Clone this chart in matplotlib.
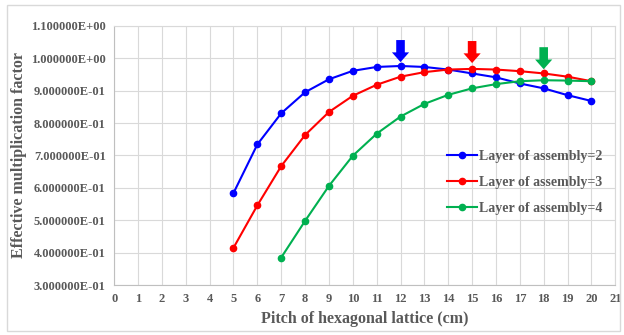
import numpy as np
import matplotlib
matplotlib.use("Agg")
import matplotlib.pyplot as plt
from matplotlib.patches import FancyArrow, Rectangle
from matplotlib.ticker import FuncFormatter

plt.rcParams['font.family'] = ['Liberation Serif', 'DejaVu Serif']
plt.rcParams['font.weight'] = 'bold'
plt.rcParams['axes.labelweight'] = 'bold'

# pitch (cm) and k-eff
pitch_2 = [5, 6, 7, 8, 9, 10, 11, 12, 13, 14, 15, 16, 17, 18, 19, 20]
keff_2 = [0.584, 0.734, 0.830, 0.895, 0.935, 0.961, 0.973, 0.976, 0.973,
          0.965, 0.953, 0.941, 0.922, 0.907, 0.886, 0.868]

pitch_3 = [5, 6, 7, 8, 9, 10, 11, 12, 13, 14, 15, 16, 17, 18, 19, 20]
keff_3 = [0.415, 0.546, 0.667, 0.763, 0.834, 0.884, 0.918, 0.943, 0.957,
          0.965, 0.967, 0.965, 0.960, 0.953, 0.943, 0.929]

pitch_4 = [7, 8, 9, 10, 11, 12, 13, 14, 15, 16, 17, 18, 19, 20]
keff_4 = [0.385, 0.498, 0.606, 0.699, 0.767, 0.820, 0.859, 0.887, 0.907,
          0.920, 0.929, 0.932, 0.931, 0.929]

labels = ["Layer of assembly=2", "Layer of assembly=3", "Layer of assembly=4"]
colors = ["#0000ff", "#ff0000", "#00b050"]

fig = plt.figure(figsize=(6.24, 3.35), dpi=100)
ax = fig.add_axes([0.183, 0.149, 0.803, 0.774])

# light frame around the whole chart
fig.patches.append(Rectangle((0.011, 0.012), 0.982, 0.973, transform=fig.transFigure,
                             fill=False, edgecolor="#d9d9d9", linewidth=1))

series = [(pitch_2, keff_2), (pitch_3, keff_3), (pitch_4, keff_4)]
for (x, y), lab, c in zip(series, labels, colors):
    ax.plot(x, y, color=c, marker="o", markersize=4.5, linewidth=1.5, label=lab)

# down arrows marking the maximum of each curve
offsets = [0.012, 0.018, 0.034]
for (x, y), c, off in zip(series, colors, offsets):
    i = int(np.argmax(y))
    tip = y[i] + off
    length = 0.068
    ax.add_patch(FancyArrow(x[i], tip + length, 0, -length, width=0.36,
                            head_width=0.72, head_length=0.03,
                            length_includes_head=True, color=c, linewidth=0))

ax.set_xlim(0, 21)
ax.set_ylim(0.3, 1.1)
ax.set_xticks(range(0, 22))
ax.set_yticks(np.arange(0.3, 1.1001, 0.1))
ax.yaxis.set_major_formatter(FuncFormatter(lambda v, p: "%.6E" % v))

ax.grid(True, color="#d9d9d9", linewidth=0.8)
ax.set_axisbelow(True)
for s in ["top", "right"]:
    ax.spines[s].set_color("#d9d9d9")
for s in ["left", "bottom"]:
    ax.spines[s].set_color("#bfbfbf")
ax.tick_params(length=0, labelsize=9, colors="#595959", pad=6)
for t in ax.get_xticklabels() + ax.get_yticklabels():
    t.set_fontweight("bold")

ax.set_xlabel("Pitch of hexagonal lattice (cm)", fontsize=11.5, color="#595959",
              fontweight="bold", labelpad=4)
ax.set_ylabel("Effective multiplication factor", fontsize=11.5, color="#595959",
              fontweight="bold", labelpad=3)

leg = ax.legend(loc="upper left", bbox_to_anchor=(0.64, 0.57), frameon=False,
                fontsize=10, handlelength=2.1, handletextpad=0.15, labelspacing=0.95)
for t in leg.get_texts():
    t.set_color("#595959")

fig.savefig("out.png", dpi=100)
